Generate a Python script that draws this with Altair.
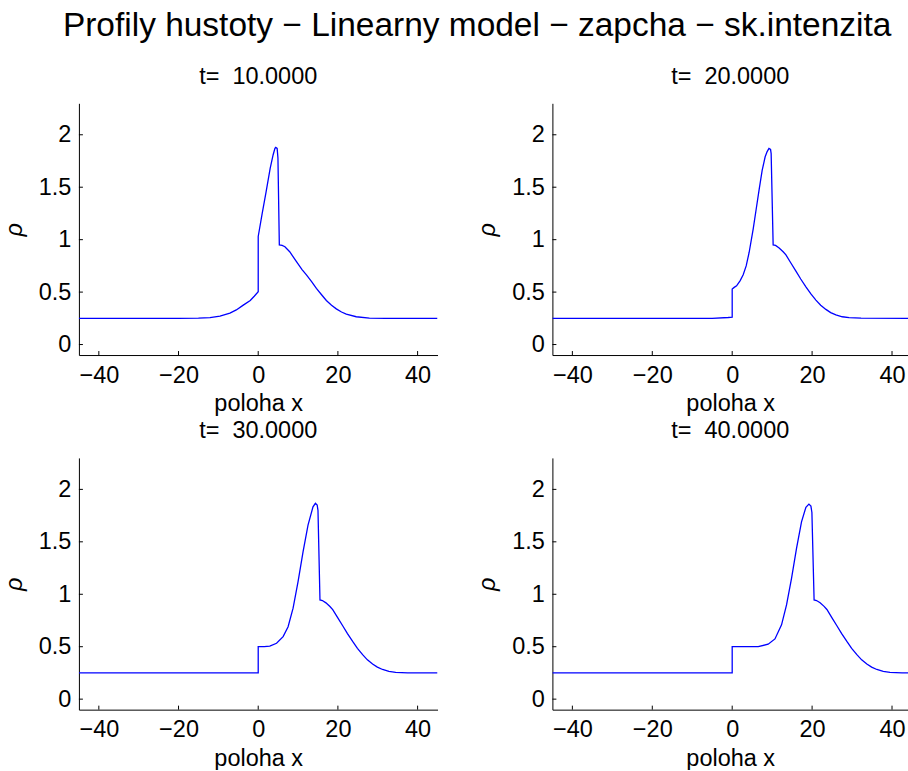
import altair as alt
import pandas as pd

# Density profiles rho(x) of the linear model at four time levels
x_t10 = [-45, -20, -15, -12.1, -9.6, -7.1, -5.5, -3.75, -2, -1, 0, 0, 1, 2, 3, 3.75, 4.2, 4.4, 4.75, 4.95, 5.3,
         6.0, 6.7, 7.9, 9.6, 11.0, 12.1, 13.4, 14.6, 15.9, 17.1, 18.4, 19.6, 20.9, 22.1, 24.6, 27.9, 32, 45]
rho_t10 = [0.25, 0.25, 0.251, 0.257, 0.271, 0.30, 0.33, 0.376, 0.42, 0.46, 0.503, 1.03, 1.25, 1.46, 1.68, 1.81, 1.87,
           1.88, 1.87, 1.78, 0.95, 0.945, 0.933, 0.885, 0.79, 0.715, 0.665, 0.60, 0.535, 0.475, 0.42, 0.375, 0.34,
           0.31, 0.29, 0.265, 0.252, 0.25, 0.25]

x_t20 = [-45, -5, -1, 0, 0, 0.5, 1.1, 2, 2.75, 3.5, 4.25, 5.25, 6.0, 6.75, 7.5, 8.25, 8.75, 9.2, 9.6, 9.75,
         10.25, 10.85, 11.75, 12.75, 13.45, 14.65, 15.95, 17.15, 18.45, 19.65, 20.95, 22.15, 23.45, 24.65,
         25.95, 27.55, 29.25, 32.25, 45]
rho_t20 = [0.25, 0.25, 0.258, 0.262, 0.529, 0.545, 0.56, 0.61, 0.665, 0.75, 0.88, 1.10, 1.29, 1.48, 1.66, 1.79, 1.84,
           1.87, 1.86, 1.82, 0.95, 0.945, 0.92, 0.885, 0.855, 0.78, 0.70, 0.625, 0.55, 0.485, 0.424, 0.375, 0.335,
           0.305, 0.283, 0.265, 0.256, 0.251, 0.25]

x_t30 = [-45, 0, 0, 1.5, 2.9, 4.6, 6.25, 7.5, 8.75, 10, 11.25, 12.5, 13.75, 14.35, 14.8, 15.0,
         15.5, 16.1, 17.0, 18.0, 18.7, 19.9, 21.2, 22.4, 23.7, 24.9, 26.2, 27.4, 28.7, 29.9, 31.2, 32.8,
         34.5, 37.5, 45]
rho_t30 = [0.25, 0.25, 0.50, 0.50, 0.506, 0.533, 0.596, 0.69, 0.867, 1.12, 1.405, 1.66, 1.834, 1.867, 1.85, 1.80,
           0.946, 0.94, 0.918, 0.883, 0.853, 0.78, 0.70, 0.625, 0.55, 0.485, 0.424, 0.375, 0.335, 0.305, 0.283,
           0.265, 0.256, 0.251, 0.25]

x_t40 = [-45, 0, 0, 3, 6.5, 9, 10.7, 12.35, 13.6, 14.85, 16.1, 17.35, 18.45, 19.2, 19.7, 19.95,
         20.5, 21.1, 22.0, 23.0, 23.7, 24.9, 26.2, 27.4, 28.7, 29.9, 31.2, 32.4, 33.7, 34.9, 36.2, 37.8,
         39.5, 42.5, 45]
rho_t40 = [0.25, 0.25, 0.50, 0.50, 0.50, 0.524, 0.574, 0.708, 0.898, 1.152, 1.438, 1.69, 1.83, 1.86, 1.84, 1.78,
           0.946, 0.94, 0.92, 0.885, 0.855, 0.78, 0.70, 0.625, 0.55, 0.485, 0.424, 0.375, 0.335, 0.305, 0.283,
           0.265, 0.256, 0.251, 0.25]

panel_titles = ["t=\u00a0 10.0000", "t=\u00a0 20.0000", "t=\u00a0 30.0000", "t=\u00a0 40.0000"]
main_title = "Profily hustoty \u2212 Linearny model \u2212 zapcha \u2212 sk.intenzita"

x_ticks = [-40, -20, 0, 20, 40]
y_ticks = [0, 0.5, 1, 1.5, 2]

FONT = "Liberation Sans"
FS = 23.5
H = 252


def panel(xs, rhos, label, x_max, width):
    x_scale = alt.Scale(domain=[-45, x_max], nice=False, zero=False)
    y_scale = alt.Scale(domain=[-0.1, 2.3], nice=False, zero=False)
    x_axis = alt.Axis(values=x_ticks, ticks=False, tickSize=0, grid=False, format="d",
                      labelFont=FONT, labelFontSize=FS, labelColor="black", labelPadding=8,
                      labelFlush=False, labelOverlap=False,
                      title="poloha x", titleFont=FONT, titleFontSize=FS, titleFontWeight="normal",
                      titleColor="black", titlePadding=5, domainColor="black", domainWidth=1)
    y_axis = alt.Axis(values=y_ticks, ticks=False, tickSize=0, grid=False, format="~g",
                      labelFont=FONT, labelFontSize=FS, labelColor="black", labelPadding=8,
                      labelFlush=False, labelOverlap=False,
                      title="\u03c1", titleFont=FONT, titleFontSize=FS, titleFontWeight="normal",
                      titleFontStyle="italic", titleColor="black", titlePadding=12,
                      domainColor="black", domainWidth=1)

    profile = alt.Chart(pd.DataFrame({"x": xs, "rho": rhos, "i": list(range(len(xs)))})).mark_line(
        color="#0000ff", strokeWidth=1.3, clip=True
    ).encode(
        x=alt.X("x:Q", scale=x_scale, axis=x_axis),
        y=alt.Y("rho:Q", scale=y_scale, axis=y_axis),
        order=alt.Order("i:Q"),
    )
    # inward tick marks, MATLAB style
    x_tick_marks = alt.Chart(pd.DataFrame({"x": x_ticks})).mark_rule(color="black", strokeWidth=1).encode(
        x=alt.X("x:Q", scale=x_scale, axis=x_axis),
        y=alt.value(H),
        y2=alt.value(H - 4),
    )
    y_tick_marks = alt.Chart(pd.DataFrame({"rho": y_ticks})).mark_rule(color="black", strokeWidth=1).encode(
        y=alt.Y("rho:Q", scale=y_scale, axis=y_axis),
        x=alt.value(0),
        x2=alt.value(4),
    )
    return alt.layer(profile, x_tick_marks, y_tick_marks).properties(
        width=width, height=H,
        title=alt.TitleParams(label, font=FONT, fontSize=FS, fontWeight="normal", color="black",
                              anchor="middle", frame="group", baseline="alphabetic", offset=-4),
    )


chart = alt.concat(
    panel(x_t10, rho_t10, panel_titles[0], 45, 359),
    panel(x_t20, rho_t20, panel_titles[1], 44, 356),
    panel(x_t30, rho_t30, panel_titles[2], 45, 359),
    panel(x_t40, rho_t40, panel_titles[3], 44, 356),
    columns=2,
    spacing={"row": 103, "column": 115},
    bounds="flush",
    title=alt.TitleParams(main_title, font=FONT, fontSize=33.5, fontWeight="normal", color="black",
                          anchor="middle", baseline="alphabetic", offset=-5, dx=22),
).properties(
    padding={"left": 2, "top": 9, "right": 0, "bottom": 0},
    background="white",
).configure_view(stroke=None)

chart.save("out.html", embed_options={"renderer": "svg", "actions": False})
